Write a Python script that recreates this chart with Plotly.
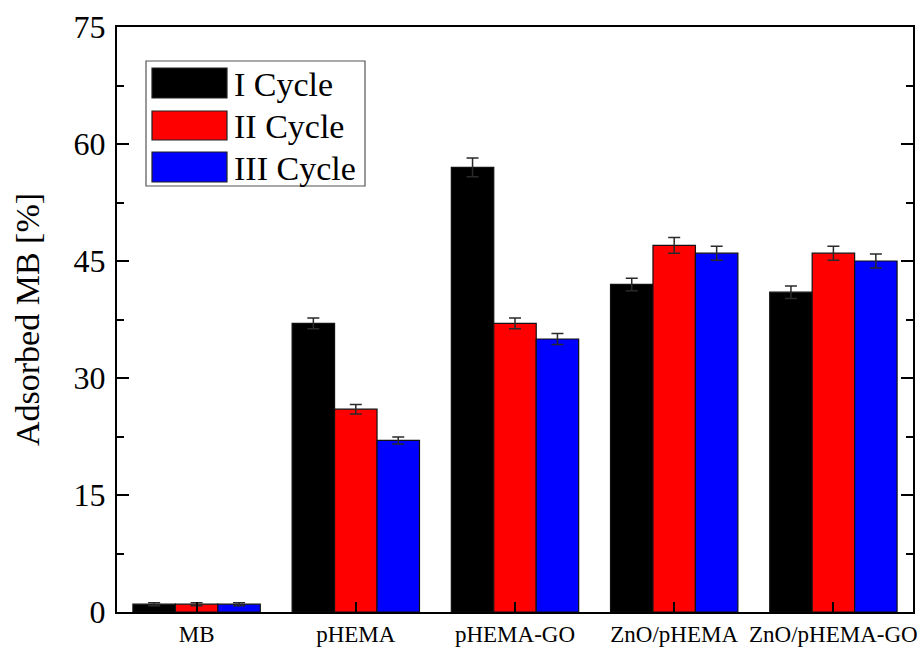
import plotly.graph_objects as go

categories = ["MB", "pHEMA", "pHEMA-GO", "ZnO/pHEMA", "ZnO/pHEMA-GO"]
series_names = ["I Cycle", "II Cycle", "III Cycle"]
cycle1 = [1.0, 37.0, 57.0, 42.0, 41.0]
cycle2 = [1.0, 26.0, 37.0, 47.0, 46.0]
cycle3 = [1.0, 22.0, 35.0, 46.0, 45.0]
err1 = [0.2, 0.7, 1.2, 0.8, 0.8]
err2 = [0.2, 0.6, 0.7, 1.0, 0.9]
err3 = [0.2, 0.45, 0.7, 0.9, 0.9]
colors = ["#000000", "#ff0000", "#0000ff"]
y_ticks = [0, 15, 30, 45, 60, 75]

FONT = "Liberation Serif, Times New Roman, serif"

fig = go.Figure()
for name, vals, errs, col in zip(series_names, [cycle1, cycle2, cycle3], [err1, err2, err3], colors):
    fig.add_trace(go.Bar(
        x=categories, y=vals, name=name,
        marker=dict(color=col, line=dict(color="#111111", width=1.2)),
        error_y=dict(type="data", array=errs, visible=True, color="#2a2a2a", thickness=1.5, width=6),
        showlegend=False,
    ))

# Legend drawn manually to reproduce large swatches
L, R, B, T = 117, 5, 35, 27
W, H = 918, 647
pw, ph = W - L - R, H - T - B
def px(x):
    return (x - L) / pw
def py(y):
    return (H - B - y) / ph

shapes = [dict(type="rect", xref="paper", yref="paper", x0=px(146), x1=px(365), y0=py(186), y1=py(61),
               line=dict(color="#555555", width=1.2), fillcolor="white", layer="above")]
annotations = []
rows = [(68, 98), (111, 140), (152, 182)]
for (y0, y1), col, name in zip(rows, colors, series_names):
    shapes.append(dict(type="rect", xref="paper", yref="paper", x0=px(152), x1=px(227), y0=py(y1), y1=py(y0),
                       line=dict(color="#222222", width=1.2), fillcolor=col, layer="above"))
    annotations.append(dict(xref="paper", yref="paper", x=px(232), y=py((y0 + y1) / 2 + 1), text=name,
                            showarrow=False, xanchor="left", yanchor="middle",
                            font=dict(family=FONT, size=34, color="black")))

fig.update_layout(
    width=W, height=H,
    margin=dict(l=L, r=R, t=T, b=B, autoexpand=False),
    paper_bgcolor="white", plot_bgcolor="white",
    barmode="group", bargap=0.2, bargroupgap=0,
    font=dict(family=FONT, color="black"),
    shapes=shapes, annotations=annotations,
    showlegend=False,
)
fig.update_xaxes(
    automargin=False,
    showline=True, linecolor="black", linewidth=2, mirror=True,
    ticks="inside", ticklen=10, tickwidth=2, tickcolor="black",
    tickfont=dict(family=FONT, size=23, color="black"),
    ticklabelstandoff=0,
    showgrid=False,
)
fig.update_yaxes(
    automargin=False,
    range=[0, 75], tickvals=y_ticks,
    showline=True, linecolor="black", linewidth=2, mirror="allticks",
    ticks="inside", ticklen=12, tickwidth=2, tickcolor="black",
    minor=dict(ticks="inside", ticklen=7, tickwidth=2, tickcolor="black", dtick=7.5, showgrid=False),
    tickfont=dict(family=FONT, size=32, color="black"),
    ticklabelstandoff=3,
    title=dict(text="Adsorbed MB [%]", font=dict(family=FONT, size=34, color="black"), standoff=24),
    showgrid=False, zeroline=False,
)

fig.write_html("out.html")
